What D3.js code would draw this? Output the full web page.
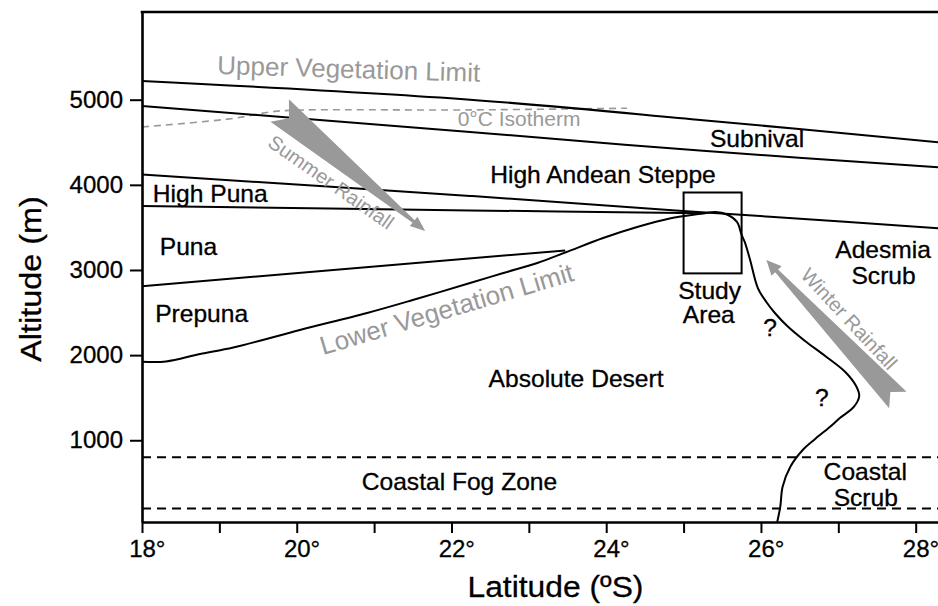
<!DOCTYPE html>
<html><head><meta charset="utf-8">
<script src="https://cdn.jsdelivr.net/npm/d3@7"></script>
<style>
html,body{margin:0;padding:0;background:#fff;}
svg{display:block;font-family:"Liberation Sans",Arial,Helvetica,sans-serif;}
</style></head><body>
<svg id="chart" width="938" height="606"></svg>
<script>
// ---------- data ----------
const latTicks = [18,19,20,21,22,23,24,25,26,27,28];
const latTickLabels = ["18°","","20°","","22°","","24°","","26°","","28°"];
const altTicks = [1000,2000,3000,4000,5000];
const altTickLabels = ["1000","2000","3000","4000","5000"];

const upperLimitLat = [18.0, 22.24, 25.25, 28.29];
const upperLimitAlt = [5220, 5000, 4760, 4500];
const subnivalLat = [18.0, 22.24, 25.25, 28.29];
const subnivalAlt = [4926, 4621, 4400, 4206];
const isothermLat = [18.0, 19.18, 19.65, 19.91, 22.24, 24.27];
const isothermAlt = [4680, 4780, 4855, 4875, 4880, 4900];
const steppeBaseLat = [18.0, 22.24, 24.99, 26.12, 28.29];
const steppeBaseAlt = [4120, 3870, 3693, 3626, 3490];
const punaTopLat = [18.0, 22.24, 25.25];
const punaTopAlt = [3750, 3700, 3665];
const prepunaTopLat = [18.0, 23.47];
const prepunaTopAlt = [2810, 3230];
const lowerLimitLat = [18.00, 18.31, 18.75, 19.18, 20.04, 20.91, 21.50, 22.24, 22.67, 23.11, 23.47, 23.96, 24.40, 24.82, 25.25, 25.41, 25.56, 25.69, 25.75, 25.79, 25.86, 25.96, 26.07, 26.18, 26.34, 26.57, 26.83, 27.09, 27.23, 27.27, 27.20, 27.02, 26.89, 26.70, 26.54, 26.38, 26.28, 26.25, 26.21];
const lowerLimitAlt = [1923, 1925, 2013, 2089, 2295, 2495, 2647, 2847, 2964, 3082, 3205, 3376, 3505, 3605, 3663, 3681, 3652, 3564, 3411, 3329, 3117, 2788, 2624, 2495, 2342, 2166, 1990, 1802, 1637, 1520, 1391, 1261, 1156, 1015, 886, 690, 455, 220, 40];
const fogZoneAlt = [200, 800];
const studyAreaLat = [25.0, 25.75];
const studyAreaAlt = [2960, 3910];
const summerArrowLat = [19.78, 21.66];
const summerArrowAlt = [4873, 3458];
const winterArrowLat = [27.77, 26.07];
const winterArrowAlt = [1473, 3117];

const zoneNames = ["High Puna","Puna","Prepuna","High Andean Steppe","Subnival","Study","Area","Adesmia","Scrub","Absolute Desert","Coastal Fog Zone","Coastal","Scrub","?","?"];
const zoneLat = [18.14, 18.23, 18.17, 22.50, 25.34, 24.93, 24.99, 26.96, 27.17, 22.48, 20.84, 26.81, 26.94, 26.03, 26.70];
const zoneAlt = [3802, 3176, 2389, 4018, 4448, 2665, 2374, 3137, 2835, 1622, 416, 535, 225, 2219, 1397];

const climateNames = ["Upper Vegetation Limit","Lower Vegetation Limit","0°C Isotherm","Summer Rainfall","Winter Rainfall"];
const climateLat = [18.97, 20.34, 22.08, 19.61, 26.50];
const climateAlt = [5302, 2001, 4691, 4462, 2929];

// ---------- styles ----------
const climateAngle = [1.7, -16.5, 0, 35, 47];
const climateSize = [26, 26, 21, 20, 20];
const GRAY = "#999";

// ---------- chart ----------
const svg = d3.select("#chart");
const x = d3.scaleLinear().domain([18, 28.3]).range([142, 938.9]);
const y = d3.scaleLinear().domain([40, 6030]).range([522, 12]);

const pts = (lats, alts) => lats.map((d, i) => [d, alts[i]]);
const smooth = d3.line().x(d => x(d[0])).y(d => y(d[1])).curve(d3.curveCatmullRom.alpha(0.5));

function arrowPath(lats, alts, tailHalf, notch, headLen, headHalf, shaftHalf) {
  const x0 = x(lats[0]), y0 = y(alts[0]), x1 = x(lats[1]), y1 = y(alts[1]);
  const L = Math.hypot(x1 - x0, y1 - y0);
  const ux = (x1 - x0) / L, uy = (y1 - y0) / L;
  const px = -uy, py = ux;
  const P = (a, p) => [x0 + a * ux + p * px, y0 + a * uy + p * py];
  const poly = [P(0, -tailHalf), P(notch, 0), P(0, tailHalf), P(L - headLen, shaftHalf),
    P(L - headLen, headHalf), P(L, 0), P(L - headLen, -headHalf), P(L - headLen, -shaftHalf)];
  return "M" + poly.map(p => p.join(",")).join("L") + "Z";
}

// fog zone dashed lines
svg.selectAll(".fog").data(fogZoneAlt).enter().append("line")
  .attr("x1", x(18)).attr("x2", x(28.3))
  .attr("y1", d => y(d)).attr("y2", d => y(d))
  .attr("stroke", "#000").attr("stroke-width", 2).attr("stroke-dasharray", "9,6");

// isotherm
svg.append("path").attr("d", smooth(pts(isothermLat, isothermAlt)))
  .attr("fill", "none").attr("stroke", GRAY).attr("stroke-width", 1.6).attr("stroke-dasharray", "7,5");

// boundary lines
const boundaries = [
  [upperLimitLat, upperLimitAlt], [subnivalLat, subnivalAlt], [steppeBaseLat, steppeBaseAlt],
  [punaTopLat, punaTopAlt], [prepunaTopLat, prepunaTopAlt], [lowerLimitLat, lowerLimitAlt]
];
boundaries.forEach(b => {
  svg.append("path").attr("d", smooth(pts(b[0], b[1])))
    .attr("fill", "none").attr("stroke", "#000").attr("stroke-width", 2);
});

// study area box
svg.append("rect")
  .attr("x", x(studyAreaLat[0])).attr("y", y(studyAreaAlt[1]))
  .attr("width", x(studyAreaLat[1]) - x(studyAreaLat[0]))
  .attr("height", y(studyAreaAlt[0]) - y(studyAreaAlt[1]))
  .attr("fill", "none").attr("stroke", "#000").attr("stroke-width", 2);

// arrows
svg.append("path").attr("d", arrowPath(summerArrowLat, summerArrowAlt, 14.5, 12, 15, 6, 1.6)).attr("fill", GRAY);
svg.append("path").attr("d", arrowPath(winterArrowLat, winterArrowAlt, 12, 11, 15, 7, 2)).attr("fill", GRAY);

// axes
const yAxis = d3.axisLeft(y).tickValues(altTicks).tickFormat((d, i) => altTickLabels[i])
  .tickSize(12).tickSizeOuter(0).tickPadding(7);
const gy = svg.append("g").attr("transform", `translate(${x(18)},0)`).call(yAxis);
const xAxis = d3.axisBottom(x).tickValues(latTicks).tickFormat((d, i) => latTickLabels[i])
  .tickSize(11).tickSizeOuter(0).tickPadding(7);
const gx = svg.append("g").attr("transform", `translate(0,${y(40)})`).call(xAxis);
[gx, gy].forEach(g => {
  g.select(".domain").attr("stroke", "#000").attr("stroke-width", 2.6);
  g.selectAll(".tick line").attr("stroke", "#000").attr("stroke-width", 2);
  g.selectAll(".tick text").attr("fill", "#000").attr("stroke", "#000").attr("stroke-width", 0.3)
    .style("font-size", "24px").style("font-family", '"Liberation Sans",Arial,sans-serif');
});
gx.selectAll(".tick text").attr("dx", "0.2em");
// top border
svg.append("line").attr("x1", x(18) - 1.3).attr("x2", x(28.3)).attr("y1", y(6030)).attr("y2", y(6030))
  .attr("stroke", "#000").attr("stroke-width", 2.6);

// zone labels
zoneNames.forEach((t, i) => {
  svg.append("text").text(t)
    .attr("transform", `translate(${x(zoneLat[i])},${y(zoneAlt[i])}) scale(1.07,1)`)
    .attr("fill", "#000").attr("stroke", "#000").attr("stroke-width", 0.3).style("font-size", "23px");
});

// climate labels (gray)
climateNames.forEach((t, i) => {
  svg.append("text").text(t)
    .attr("transform", `translate(${x(climateLat[i])},${y(climateAlt[i])}) rotate(${climateAngle[i]})`)
    .attr("fill", GRAY).style("font-size", climateSize[i] + "px");
});

// axis titles
svg.append("text").text("Latitude (ºS)")
  .attr("transform", `translate(${(x(18) + x(28.3)) / 2 + 15},597) scale(1.06,1)`)
  .attr("text-anchor", "middle").attr("fill", "#000").attr("stroke", "#000").attr("stroke-width", 0.3)
  .style("font-size", "30px");
svg.append("text").text("Altitude (m)")
  .attr("transform", `translate(41,${(y(40) + y(6030)) / 2 + 12}) rotate(-90) scale(1.08,1)`)
  .attr("text-anchor", "middle").attr("fill", "#000").attr("stroke", "#000").attr("stroke-width", 0.3)
  .style("font-size", "30px");
</script>
</body></html>
